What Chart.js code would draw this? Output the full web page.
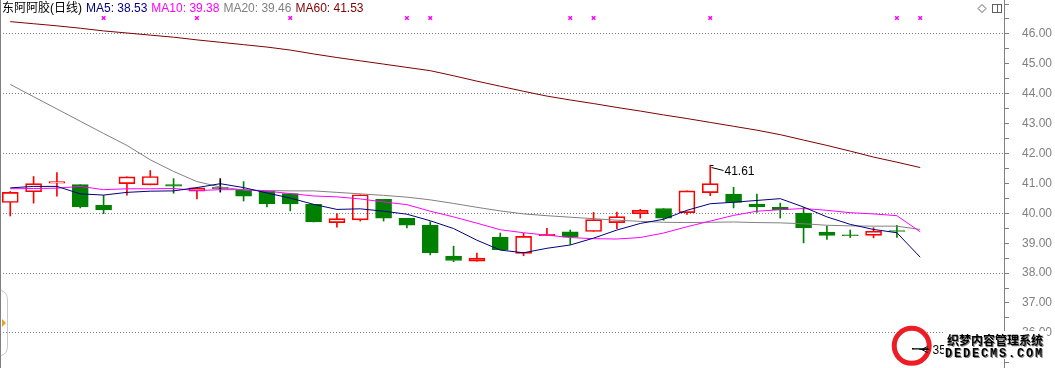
<!DOCTYPE html>
<html>
<head>
<meta charset="utf-8">
<script src="https://cdn.jsdelivr.net/npm/chart.js@4.4.1/dist/chart.umd.min.js"></script>
<style>
html, body { margin: 0; padding: 0; background: #fff; }
#wrap { width: 1055px; height: 368px; position: relative; }
</style>
</head>
<body>
<div id="wrap"><canvas id="myChart"></canvas></div>
<script>
var stockName = "东阿阿胶(日线)";

// daily prices, one entry per trading day (index = day)
var open  = [40.36, 40.72, 41.01, 40.96, 40.27, 40.99, 40.95, 40.96, 40.74, 40.83,
             40.77, 40.74, 40.66, 40.30, 39.69, 39.78, 40.47, 39.83, 39.61, 38.57,
             38.40, 39.20, 38.66, 39.25, 39.38, 39.39, 39.69, 39.99, 40.16, 40.02,
             40.69, 40.64, 40.31, 40.20, 40.01, 39.37, 39.27, 39.26, 39.41, 35.45];
var high  = [40.73, 41.23, 41.36, 40.96, 40.60, 41.22, 41.43, 41.16, 40.85, 41.16,
             41.06, 40.76, 40.66, 40.30, 39.99, 40.62, 40.47, 39.83, 39.72, 38.90,
             38.67, 39.34, 39.33, 39.50, 39.44, 40.03, 40.04, 40.13, 40.16, 40.75,
             41.61, 40.87, 40.64, 40.34, 40.20, 39.57, 39.44, 39.52, 39.60, 35.45];
var low   = [39.91, 40.34, 40.57, 40.18, 39.99, 40.61, 40.95, 40.67, 40.48, 40.71,
             40.41, 40.21, 40.08, 39.71, 39.54, 39.74, 39.74, 39.51, 38.61, 38.38,
             38.40, 38.78, 38.58, 39.25, 38.96, 39.39, 39.49, 39.84, 39.77, 39.96,
             40.59, 40.18, 40.03, 39.84, 39.01, 39.13, 39.19, 39.18, 39.19, 35.45];
var close = [40.70, 40.99, 41.06, 40.21, 40.11, 41.22, 41.23, 40.91, 40.85, 40.83,
             40.57, 40.31, 40.31, 39.71, 39.82, 40.62, 39.84, 39.60, 38.68, 38.42,
             38.50, 38.78, 39.23, 39.30, 39.20, 39.79, 39.89, 40.10, 39.84, 40.75,
             40.99, 40.36, 40.21, 40.12, 39.51, 39.26, 39.25, 39.40, 39.39, 35.45];

// moving averages
var ma5  = [40.85, 40.90, 40.90, 40.65, 40.61, 40.70, 40.74, 40.75, 40.86, 40.99,
            40.86, 40.68, 40.51, 40.30, 40.13, 40.15, 40.07, 39.97, 39.75, 39.49,
            39.10, 38.77, 38.68, 38.83, 38.94, 39.17, 39.44, 39.66, 39.80, 40.10,
            40.32, 40.37, 40.43, 40.49, 40.21, 39.88, 39.63, 39.46, 39.35, 38.53];
var ma10 = [40.82, 40.83, 40.84, 40.90, 40.79, 40.82, 40.82, 40.83, 40.76, 40.79,
            40.79, 40.74, 40.66, 40.58, 40.55, 40.48, 40.38, 40.29, 40.07, 39.88,
            39.67, 39.45, 39.35, 39.27, 39.19, 39.15, 39.14, 39.19, 39.34, 39.55,
            39.74, 39.93, 40.07, 40.12, 40.16, 40.10, 40.02, 39.98, 39.92, 39.38];
var ma20 = [44.31, 43.90, 43.49, 43.08, 42.67, 42.27, 41.79, 41.40, 41.06, 40.88,
            40.78, 40.76, 40.75, 40.75, 40.70, 40.65, 40.60, 40.54, 40.45, 40.33,
            40.20, 40.08, 39.98, 39.92, 39.87, 39.82, 39.77, 39.73, 39.70, 39.69,
            39.70, 39.71, 39.69, 39.68, 39.65, 39.60, 39.58, 39.57, 39.57, 39.46];
var ma60 = [46.41, 46.34, 46.27, 46.19, 46.10, 46.03, 45.96, 45.89, 45.80, 45.72,
            45.64, 45.56, 45.46, 45.33, 45.21, 45.10, 44.99, 44.88, 44.77, 44.60,
            44.42, 44.25, 44.08, 43.92, 43.79, 43.67, 43.54, 43.42, 43.29, 43.17,
            43.04, 42.91, 42.78, 42.63, 42.45, 42.27, 42.08, 41.88, 41.71, 41.53];

// days flagged with a magenta cross along the top
var markDays = [4, 8, 12, 17, 18, 24, 25, 30, 38, 39];

var upColor = "#FF0000";
var downColor = "#008000";
var flatColor = "#000000";

function candleColor(i) {
    if (close[i] > open[i]) return upColor;
    if (close[i] < open[i]) return downColor;
    return flatColor;
}

var colors = open.map(function (o, i) { return candleColor(i); });
var bodyFill = colors.map(function (c) { return c === upColor ? "rgba(0,0,0,0)" : c; });

var bodies = open.map(function (o, i) { return { x: i, y: [o, close[i]] }; });
var upperWicks = open.map(function (o, i) { return { x: i, y: [Math.max(o, close[i]), high[i]] }; });
var lowerWicks = open.map(function (o, i) { return { x: i, y: [low[i], Math.min(o, close[i])] }; });

function toPoints(arr) {
    return arr.map(function (v, i) { return { x: i, y: v }; });
}

var markLevel = 46.53;
var marks = markDays.map(function (d) { return { x: d, y: markLevel }; });

Chart.defaults.font.family = '"Liberation Sans", Arial, sans-serif';

var decor = {
    id: "decor",
    beforeDatasetsDraw: function (chart) {
        var ctx = chart.ctx, xs = chart.scales.x, ys = chart.scales.y;
        var n = low.length - 1;
        var cx = xs.getPixelForValue(n) - 8.5;
        var cy = ys.getPixelForValue(low[n]) - 3.5;
        ctx.save();
        ctx.beginPath();
        ctx.arc(cx, cy, 17.5, 0, Math.PI * 2);
        ctx.fillStyle = "#fff";
        ctx.fill();
        ctx.lineWidth = 5;
        ctx.strokeStyle = "#EE1C24";
        ctx.stroke();
        ctx.restore();
    },
    afterDraw: function (chart) {
        var ctx = chart.ctx, xs = chart.scales.x, ys = chart.scales.y;
        ctx.save();

        // left border
        ctx.strokeStyle = "#808080";
        ctx.lineWidth = 1;
        ctx.beginPath();
        ctx.moveTo(0.5, 0);
        ctx.lineTo(0.5, chart.height);
        ctx.stroke();

        // left tab with orange arrow
        ctx.strokeStyle = "#c8c8c8";
        ctx.beginPath();
        ctx.moveTo(1, 290.5);
        ctx.quadraticCurveTo(7.5, 292, 7.5, 300);
        ctx.lineTo(7.5, 346);
        ctx.quadraticCurveTo(7.5, 354, 1, 355.5);
        ctx.stroke();
        ctx.fillStyle = "#E8A020";
        ctx.beginPath();
        ctx.moveTo(2, 319);
        ctx.lineTo(6, 323);
        ctx.lineTo(2, 327);
        ctx.closePath();
        ctx.fill();

        // title + moving average legend
        ctx.font = '12px "Liberation Sans", "Noto Sans CJK SC", sans-serif';
        ctx.textBaseline = "alphabetic";
        var items = [
            [stockName, "#000000"],
            ["MA5: " + ma5[ma5.length - 1].toFixed(2), "#000080"],
            ["MA10: " + ma10[ma10.length - 1].toFixed(2), "#FF00FF"],
            ["MA20: " + ma20[ma20.length - 1].toFixed(2), "#808080"],
            ["MA60: " + ma60[ma60.length - 1].toFixed(2), "#800000"]
        ];
        var tx = 2;
        items.forEach(function (it) {
            ctx.fillStyle = it[1];
            ctx.fillText(it[0], tx, 12);
            tx += ctx.measureText(it[0]).width + 4;
        });

        // top right icons
        ctx.strokeStyle = "#606060";
        ctx.beginPath();
        ctx.moveTo(982, 4.5);
        ctx.lineTo(986, 8.5);
        ctx.lineTo(982, 12.5);
        ctx.lineTo(978, 8.5);
        ctx.closePath();
        ctx.stroke();
        ctx.strokeRect(992.5, 4.5, 9, 8);
        ctx.beginPath();
        ctx.moveTo(997.5, 4.5);
        ctx.lineTo(997.5, 12.5);
        ctx.stroke();

        // highest price marker
        var hi = 0;
        high.forEach(function (v, i) { if (v > high[hi]) hi = i; });
        var hx = Math.round(xs.getPixelForValue(hi)) + 0.5;
        var hy = Math.round(ys.getPixelForValue(high[hi])) + 0.5;
        ctx.strokeStyle = "#000";
        ctx.beginPath();
        ctx.moveTo(hx, hy);
        ctx.lineTo(hx + 3, hy);
        ctx.moveTo(hx + 1, hy + 2);
        ctx.lineTo(hx + 13, hy + 5);
        ctx.stroke();
        ctx.fillStyle = "#000";
        ctx.font = '12px "Liberation Sans", sans-serif';
        ctx.textBaseline = "middle";
        ctx.fillText(high[hi].toFixed(2), hx + 14, hy + 6);

        // lowest price marker
        var lo = 0;
        low.forEach(function (v, i) { if (v < low[lo]) lo = i; });
        var lx = Math.round(xs.getPixelForValue(lo)) + 0.5;
        var ly = Math.round(ys.getPixelForValue(low[lo])) + 0.5;
        ctx.beginPath();
        ctx.moveTo(lx + 7, ly - 3);
        ctx.lineTo(lx + 1, ly);
        ctx.lineTo(lx + 7, ly + 3);
        ctx.moveTo(lx + 1, ly);
        ctx.lineTo(lx + 9, ly);
        ctx.stroke();
        ctx.fillText(low[lo].toFixed(2), lx + 12, ly + 1);

        // watermark
        ctx.fillStyle = "#fff";
        ctx.fillRect(944, 331, 103, 28);
        ctx.textBaseline = "alphabetic";
        ctx.shadowColor = "rgba(120,120,120,0.9)";
        ctx.shadowOffsetX = 1;
        ctx.shadowOffsetY = 1;
        ctx.fillStyle = "#000";
        ctx.font = 'bold 12px "Noto Sans CJK SC", sans-serif';
        ctx.fillText("织梦内容管理系统", 947, 345);
        ctx.font = 'bold 12px "Liberation Mono", monospace';
        ctx.letterSpacing = "1.8px";
        ctx.fillText("DEDECMS.COM", 945, 357);
        ctx.restore();
    }
};

new Chart("myChart", {
    type: "bar",
    data: {
        datasets: [
            {
                type: "line", label: "MA5", data: toPoints(ma5), order: 0,
                borderColor: "#000080", borderWidth: 1, pointRadius: 0, fill: false, tension: 0
            },
            {
                type: "line", label: "MA10", data: toPoints(ma10), order: 0,
                borderColor: "#FF00FF", borderWidth: 1, pointRadius: 0, fill: false, tension: 0
            },
            {
                type: "line", label: "MA20", data: toPoints(ma20), order: 0,
                borderColor: "#808080", borderWidth: 1, pointRadius: 0, fill: false, tension: 0
            },
            {
                type: "line", label: "MA60", data: toPoints(ma60), order: 0,
                borderColor: "#800000", borderWidth: 1, pointRadius: 0, fill: false, tension: 0
            },
            {
                type: "line", label: "marks", data: marks, order: 0, showLine: false,
                pointStyle: "crossRot", pointRadius: 2.5, pointBorderWidth: 1.5,
                pointBorderColor: "#FF00FF", pointBackgroundColor: "#FF00FF"
            },
            {
                label: "body", data: bodies, order: 1, grouped: false,
                barThickness: 16, minBarLength: 1, borderSkipped: false, borderWidth: 1,
                borderColor: colors, backgroundColor: bodyFill
            },
            {
                label: "upper", data: upperWicks, order: 2, grouped: false,
                barThickness: 1, borderWidth: 0, backgroundColor: colors
            },
            {
                label: "lower", data: lowerWicks, order: 2, grouped: false,
                barThickness: 1, borderWidth: 0, backgroundColor: colors
            }
        ]
    },
    options: {
        responsive: true,
        maintainAspectRatio: false,
        animation: false,
        events: [],
        layout: { padding: 0, autoPadding: false },
        plugins: {
            legend: { display: false },
            tooltip: { enabled: false }
        },
        scales: {
            x: {
                type: "linear", min: -0.44, max: 42.59, offset: false, display: false,
                grid: { display: false }
            },
            y: {
                position: "right",
                min: 34.826,
                max: 47.134,
                afterFit: function (s) { s.width = 51; s.paddingTop = 0; s.paddingBottom = 0; },
                ticks: {
                    stepSize: 0.5,
                    includeBounds: false,
                    autoSkip: false,
                    padding: 13,
                    color: "#808080",
                    font: { size: 12 },
                    callback: function (v) {
                        var r = Math.round(v);
                        if (Math.abs(v - r) < 1e-6 && r >= 36 && r <= 46) return r.toFixed(2);
                        return "";
                    }
                },
                grid: {
                    lineWidth: 1,
                    tickLength: 5,
                    tickColor: "#808080",
                    color: function (c) {
                        var v = c.tick ? c.tick.value : 0;
                        var r = Math.round(v);
                        return (Math.abs(v - r) < 1e-6 && r % 2 === 0) ? "#808080" : "rgba(0,0,0,0)";
                    }
                },
                border: { display: true, color: "#808080", width: 1, dash: [1, 2] }
            }
        }
    },
    plugins: [decor]
});
</script>
</body>
</html>
